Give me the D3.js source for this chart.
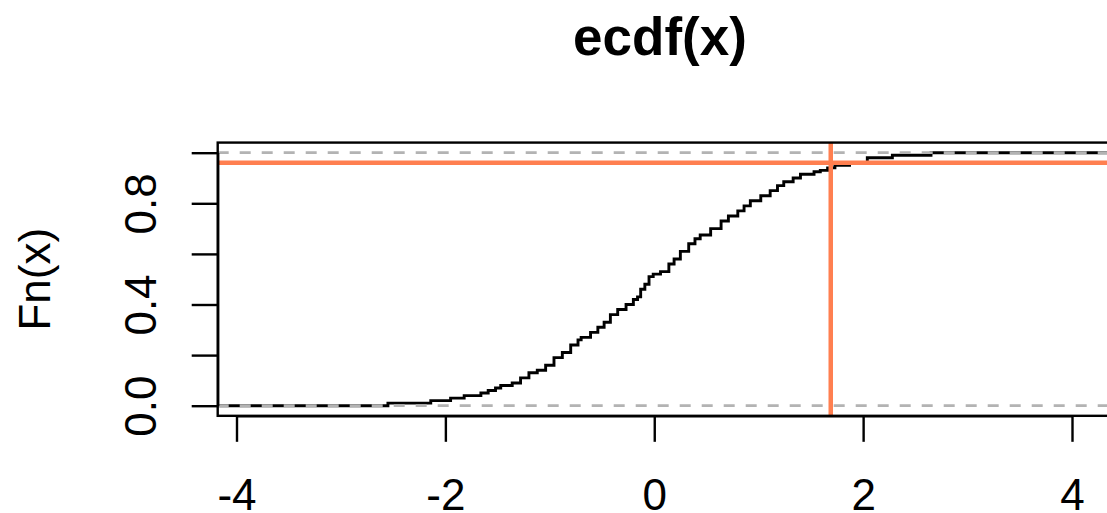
<!DOCTYPE html>
<html>
<head>
<meta charset="utf-8">
<script src="https://cdn.jsdelivr.net/npm/d3@7"></script>
<style>
  body { margin: 0; background: #fff; }
  svg { display: block; font-family: "Liberation Sans", Arial, sans-serif; }
</style>
</head>
<body>
<div class="content"></div>
<script>
//--> Data
const xTicks = [-4, -2, 0, 2, 4];
const yTicks = [0, 0.2, 0.4, 0.6, 0.8, 1];
const yTickLabels = ["0.0", "", "0.4", "", "0.8", ""];

// ecdf knots (x where the step happens, Fn after the step)
const knotX = [-2.55, -2.14, -1.95, -1.82, -1.66, -1.59, -1.52, -1.47, -1.36, -1.28,
  -1.20, -1.12, -1.04, -0.96, -0.88, -0.80, -0.73, -0.70, -0.61, -0.54,
  -0.48, -0.42, -0.35, -0.27, -0.20, -0.16, -0.13, -0.09, -0.05, -0.01,
  0.06, 0.14, 0.19, 0.25, 0.33, 0.39, 0.44, 0.54, 0.64, 0.71,
  0.80, 0.86, 0.92, 1.02, 1.11, 1.18, 1.24, 1.33, 1.40, 1.53,
  1.59, 1.66, 1.73, 1.87, 2.04, 2.28, 2.65];
const knotF = [0.01, 0.02, 0.03, 0.04, 0.05, 0.06, 0.07, 0.08, 0.09, 0.11,
  0.13, 0.14, 0.16, 0.19, 0.21, 0.24, 0.26, 0.27, 0.29, 0.31,
  0.33, 0.36, 0.38, 0.40, 0.42, 0.43, 0.46, 0.48, 0.51, 0.52,
  0.53, 0.56, 0.58, 0.61, 0.64, 0.66, 0.675, 0.70, 0.73, 0.75,
  0.77, 0.79, 0.81, 0.83, 0.85, 0.87, 0.885, 0.90, 0.915, 0.925,
  0.93, 0.94, 0.95, 0.96, 0.98, 0.99, 1.0];

const cutX = 1.69;  // orange vertical
const cutF = 0.96;  // orange horizontal

//--> Constants
const width = 1107;
const height = 513;
const xlim = [-4.18, 4.6];
const ylim = [-0.04, 1.04];
const axisFont = 44;

const svg = d3.select(".content").append("svg")
  .attr("width", width)
  .attr("height", height);

const x = d3.scaleLinear().domain([-4, 4]).range([236.5, 1072]);
const y = d3.scaleLinear().domain([0, 1]).range([405.7, 152.7]);

const box = {
  x0: x(xlim[0]), x1: x(xlim[1]),
  y0: y(ylim[1]), y1: y(ylim[0])
};

svg.append("clipPath").attr("id", "plotclip")
  .append("rect")
  .attr("x", box.x0).attr("y", box.y0)
  .attr("width", box.x1 - box.x0).attr("height", box.y1 - box.y0);

const plot = svg.append("g").attr("clip-path", "url(#plotclip)");

//--> Step curve
const pts = [[xlim[0], 0]];
knotX.forEach((k, i) => pts.push([k, knotF[i]]));
pts.push([xlim[1], 1]);

const line = d3.line()
  .x(d => x(d[0]))
  .y(d => y(d[1]))
  .curve(d3.curveStepAfter);

plot.append("path")
  .datum(pts)
  .attr("d", line)
  .attr("fill", "none")
  .attr("stroke", "#000")
  .attr("stroke-width", 2.9);

//--> Dashed lines at 0 and 1
plot.selectAll(".hline")
  .data([0, 1])
  .enter()
  .append("line")
  .attr("x1", box.x0).attr("x2", box.x1)
  .attr("y1", d => y(d)).attr("y2", d => y(d))
  .attr("stroke", "#b3b3b3")
  .attr("stroke-width", 2.8)
  .attr("stroke-dasharray", "11,11");

//--> Orange reference lines
plot.append("line")
  .attr("x1", box.x0).attr("x2", box.x1)
  .attr("y1", y(cutF)).attr("y2", y(cutF))
  .attr("stroke", "#ff7f50")
  .attr("stroke-width", 4.5);

plot.append("line")
  .attr("x1", x(cutX)).attr("x2", x(cutX))
  .attr("y1", box.y0).attr("y2", box.y1)
  .attr("stroke", "#ff7f50")
  .attr("stroke-width", 4.5);

//--> Box
svg.append("rect")
  .attr("x", box.x0).attr("y", box.y0)
  .attr("width", box.x1 - box.x0).attr("height", box.y1 - box.y0)
  .attr("fill", "none")
  .attr("stroke", "#000")
  .attr("stroke-width", 2.4);

//--> Axes
const xAxis = svg.append("g")
  .attr("transform", `translate(0, ${box.y1})`)
  .call(d3.axisBottom(x).tickValues(xTicks).tickSize(26).tickSizeOuter(0)
    .tickFormat(d3.format("d")));

xAxis.selectAll("line, path").attr("stroke", "#000").attr("stroke-width", 2.4);
xAxis.selectAll("text")
  .attr("y", 510 - box.y1)
  .attr("dy", 0)
  .attr("fill", "#000")
  .attr("font-size", axisFont)
  .attr("font-family", "Liberation Sans, Arial, sans-serif")
  .text(d => d < 0 ? "-" + Math.abs(d) : d);

const yAxis = svg.append("g")
  .attr("transform", `translate(${box.x0}, 0)`)
  .call(d3.axisLeft(y).tickValues(yTicks).tickSize(26).tickSizeOuter(0)
    .tickFormat((d, i) => yTickLabels[i]));

yAxis.selectAll("line, path").attr("stroke", "#000").attr("stroke-width", 2.4);
yAxis.selectAll("text")
  .attr("x", 0)
  .attr("dy", 0)
  .attr("transform", "translate(-62, 0) rotate(-90)")
  .attr("text-anchor", "middle")
  .attr("fill", "#000")
  .attr("font-size", axisFont)
  .attr("font-family", "Liberation Sans, Arial, sans-serif");

//--> Titles
svg.append("text")
  .attr("x", 660)
  .attr("y", 55)
  .attr("text-anchor", "middle")
  .attr("font-size", 53)
  .attr("font-weight", "bold")
  .text("ecdf(x)");

svg.append("text")
  .attr("transform", `translate(50, ${(box.y0 + box.y1) / 2}) rotate(-90)`)
  .attr("text-anchor", "middle")
  .attr("font-size", axisFont)
  .text("Fn(x)");
</script>
</body>
</html>
